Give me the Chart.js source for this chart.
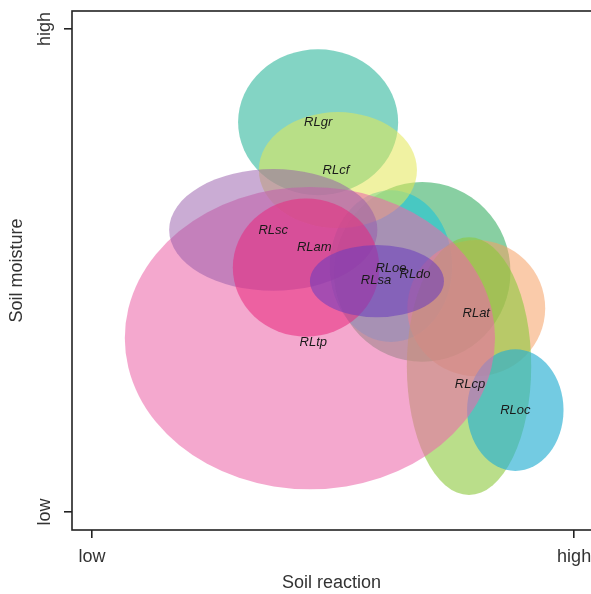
<!DOCTYPE html>
<html>
<head>
<meta charset="utf-8">
<script src="https://cdn.jsdelivr.net/npm/chart.js@4.4.0/dist/chart.umd.min.js"></script>
<style>
  html, body { margin: 0; padding: 0; background: #fff; }
  #wrap { width: 591px; height: 594px; }
</style>
</head>
<body>
<div id="wrap"><canvas id="plot"></canvas></div>
<script>
// ellipses on the soil reaction (x) / soil moisture (y) plane, 0 = low, 1 = high
// listed in drawing order
var groups  = ['RLdo', 'RLoe', 'RLat', 'RLcp', 'RLoc', 'RLgr', 'RLcf', 'RLtp', 'RLsc', 'RLam', 'RLsa'];
var centreX = [0.685, 0.620, 0.797, 0.782, 0.878, 0.469, 0.510, 0.452, 0.376, 0.444, 0.591];
var centreY = [0.497, 0.509, 0.422, 0.302, 0.211, 0.807, 0.708, 0.360, 0.584, 0.506, 0.478];
var spreadX = [0.183, 0.127, 0.143, 0.129, 0.100, 0.166, 0.164, 0.384, 0.216, 0.152, 0.139];
var spreadY = [0.186, 0.157, 0.141, 0.267, 0.126, 0.151, 0.120, 0.313, 0.126, 0.143, 0.075];
var labelX  = [0.670, 0.620, 0.797, 0.784, 0.878, 0.469, 0.506, 0.459, 0.376, 0.461, 0.589];
var labelY  = [0.491, 0.505, 0.412, 0.265, 0.211, 0.807, 0.708, 0.352, 0.584, 0.547, 0.480];
var tickValues = [0, 1];
var tickLabels = ['low', 'high'];

var fills = [
    'rgba(50, 172, 95, 0.58)',
    'rgba(30, 195, 215, 0.6)',
    'rgba(245, 160, 100, 0.55)',
    'rgba(140, 200, 60, 0.6)',
    'rgba(40, 175, 210, 0.65)',
    'rgba(55, 185, 160, 0.62)',
    'rgba(228, 232, 85, 0.55)',
    'rgba(236, 105, 170, 0.58)',
    'rgba(150, 90, 170, 0.5)',
    'rgba(232, 40, 125, 0.55)',
    'rgba(105, 60, 190, 0.55)',
];

var font = "'Liberation Sans', Arial, sans-serif";

var ellipsePlugin = {
    id: 'ellipses',
    beforeDatasetsDraw: function (chart) {
        var ctx = chart.ctx;
        var sx = chart.scales.x;
        var sy = chart.scales.y;
        var a = chart.chartArea;
        ctx.save();
        ctx.beginPath();
        ctx.rect(a.left, a.top, a.right - a.left, a.bottom - a.top);
        ctx.clip();
        groups.forEach(function (g, i) {
            var cx = sx.getPixelForValue(centreX[i]);
            var cy = sy.getPixelForValue(centreY[i]);
            var rx = Math.abs(sx.getPixelForValue(centreX[i] + spreadX[i]) - cx);
            var ry = Math.abs(sy.getPixelForValue(centreY[i] + spreadY[i]) - cy);
            ctx.beginPath();
            ctx.ellipse(cx, cy, rx, ry, 0, 0, Math.PI * 2);
            ctx.fillStyle = fills[i];
            ctx.fill();
        });
        ctx.restore();
    },
    afterDatasetsDraw: function (chart) {
        var ctx = chart.ctx;
        var sx = chart.scales.x;
        var sy = chart.scales.y;
        var a = chart.chartArea;
        ctx.save();
        ctx.font = 'italic 13px ' + font;
        ctx.fillStyle = '#1a1a1a';
        ctx.textAlign = 'center';
        ctx.textBaseline = 'middle';
        groups.forEach(function (g, i) {
            ctx.fillText(g, sx.getPixelForValue(labelX[i]), sy.getPixelForValue(labelY[i]));
        });
        // frame round the plot
        ctx.strokeStyle = '#222';
        ctx.lineWidth = 1.6;
        ctx.strokeRect(a.left, a.top, a.right - a.left + 2, a.bottom - a.top);
        ctx.restore();
    },
};

function fixedTicks(scale) {
    scale.ticks = tickValues.map(function (v) { return { value: v }; });
}

var ctx = document.getElementById('plot').getContext('2d');
var chart = new Chart(ctx, {
    type: 'scatter',
    data: {
        datasets: [{
            label: 'centres',
            data: groups.map(function (g, i) { return { x: centreX[i], y: centreY[i] }; }),
            pointRadius: 0,
        }],
    },
    options: {
        responsive: true,
        maintainAspectRatio: false,
        animation: false,
        layout: { padding: { top: 11, right: 0, left: 0, bottom: 0 } },
        plugins: { legend: { display: false }, tooltip: { enabled: false } },
        scales: {
            x: {
                type: 'linear',
                min: -0.0415,
                max: 1.035,
                afterBuildTicks: fixedTicks,
                afterFit: function (s) {
                    s.height = 64;
                    s.paddingLeft = 0;
                    s.paddingRight = 0;
                },
                border: { display: false },
                grid: { drawOnChartArea: false, drawTicks: true, tickLength: 8, color: '#222', lineWidth: 1.6 },
                ticks: {
                    padding: 8,
                    color: '#333',
                    font: { family: font, size: 18 },
                    maxRotation: 0,
                    callback: function (v) { return tickLabels[tickValues.indexOf(v)]; },
                },
                title: {
                    display: true,
                    text: 'Soil reaction',
                    color: '#333',
                    font: { family: font, size: 18 },
                    padding: { top: 0, bottom: 0 },
                },
            },
            y: {
                type: 'linear',
                min: -0.0373,
                max: 1.0373,
                afterBuildTicks: fixedTicks,
                afterFit: function (s) {
                    s.width = 72;
                    s.paddingTop = 0;
                    s.paddingBottom = 0;
                },
                border: { display: false },
                grid: { drawOnChartArea: false, drawTicks: true, tickLength: 8, color: '#222', lineWidth: 1.6 },
                ticks: {
                    padding: 2,
                    color: '#333',
                    minRotation: 90,
                    maxRotation: 90,
                    crossAlign: 'center',
                    font: { family: font, size: 18 },
                    callback: function (v) { return tickLabels[tickValues.indexOf(v)]; },
                },
                title: {
                    display: true,
                    text: 'Soil moisture',
                    color: '#333',
                    font: { family: font, size: 18 },
                    padding: { top: 6, bottom: 0 },
                },
            },
        },
    },
    plugins: [ellipsePlugin],
});
</script>
</body>
</html>
